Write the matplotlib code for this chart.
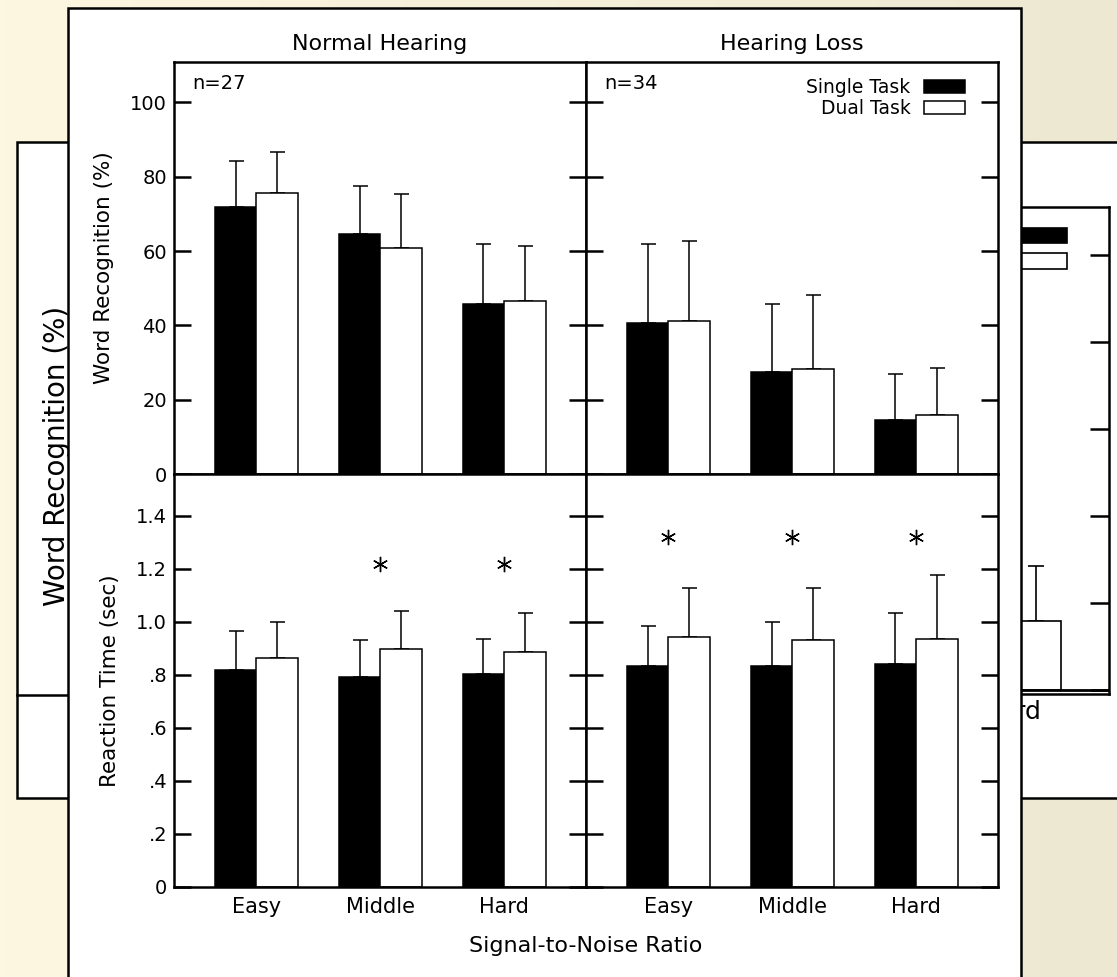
"""Word recognition and reaction time, single vs dual task, on a slide background."""

import matplotlib.pyplot as plt
import matplotlib.patches as mpatches
import numpy as np

plt.rcParams["font.family"] = ["DejaVu Sans"]

# Data
CATEGORIES = ["Easy", "Middle", "Hard"]
SERIES = ["Single Task", "Dual Task"]

nh_wr_single = [71.8, 64.5, 45.8]
nh_wr_single_err = [12.5, 13.1, 16.1]
nh_wr_dual = [75.6, 60.8, 46.6]
nh_wr_dual_err = [11.2, 14.6, 14.9]

hl_wr_single = [40.7, 27.5, 14.5]
hl_wr_single_err = [21.1, 18.3, 12.5]
hl_wr_dual = [41.1, 28.3, 15.8]
hl_wr_dual_err = [21.7, 19.9, 12.8]

nh_rt_single = [0.820, 0.792, 0.804]
nh_rt_single_err = [0.146, 0.141, 0.133]
nh_rt_dual = [0.863, 0.896, 0.887]
nh_rt_dual_err = [0.136, 0.147, 0.147]

hl_rt_single = [0.833, 0.835, 0.842]
hl_rt_single_err = [0.150, 0.165, 0.193]
hl_rt_dual = [0.942, 0.933, 0.935]
hl_rt_dual_err = [0.186, 0.195, 0.242]

# significance markers (single vs dual reaction time)
nh_sig = [False, True, True]
hl_sig = [True, True, True]
nh_star_y = 1.22
hl_star_y = 1.32

WR_TICKS = [0, 20, 40, 60, 80, 100]
RT_TICKS = [0, 0.2, 0.4, 0.6, 0.8, 1.0, 1.2, 1.4]
RT_LABELS = ["0", ".2", ".4", ".6", ".8", "1.0", "1.2", "1.4"]

W, H = 1117, 977
BAR_W = 0.335


def fr(x0, y0, x1, y1):
    """pixel box (top-left origin) -> figure fraction rect"""
    return [x0 / W, 1 - y1 / H, (x1 - x0) / W, (y1 - y0) / H]


def draw_bars(ax, single, single_err, dual, dual_err, lw=1.1, cap=5.4):
    x = np.arange(1, len(CATEGORIES) + 1)
    b1 = ax.bar(x - BAR_W / 2, single, BAR_W, color="black", edgecolor="black",
                linewidth=lw, label=SERIES[0], zorder=2)
    b2 = ax.bar(x + BAR_W / 2, dual, BAR_W, color="white", edgecolor="black",
                linewidth=lw, label=SERIES[1], zorder=2)
    ax.errorbar(x - BAR_W / 2, single, yerr=[np.zeros(len(x)), single_err], fmt="none",
                ecolor="black", elinewidth=lw, capsize=cap, capthick=lw, zorder=1)
    ax.errorbar(x + BAR_W / 2, dual, yerr=[np.zeros(len(x)), dual_err], fmt="none",
                ecolor="black", elinewidth=lw, capsize=cap, capthick=lw, zorder=1)
    return b1, b2


fig = plt.figure(figsize=(W / 100, H / 100), dpi=100)

# ---- slide background and panels behind the chart
ax_bg = fig.add_axes([0, 0, 1, 1], zorder=0)
ax_bg.set_xlim(0, W)
ax_bg.set_ylim(H, 0)
ax_bg.axis("off")
c0 = np.array([253, 246, 224]) / 255
c1 = np.array([236, 232, 210]) / 255
t = np.linspace(0, 1, 200)[None, :, None]
grad = np.repeat(c0 + (c1 - c0) * t, 2, axis=0)
ax_bg.imshow(grad, extent=(0, W, H, 0), aspect="auto", zorder=0)
ax_bg.add_patch(mpatches.Rectangle((16.7, 142.3), 200, 656, facecolor="white",
                                   edgecolor="black", linewidth=1.8, zorder=1))
ax_bg.plot([16.7, 200], [695, 695], color="black", lw=1.8, zorder=2)
ax_bg.text(65, 456, "Word Recognition (%)", rotation=90, rotation_mode="anchor",
           ha="center", va="baseline", fontsize=20, zorder=2)
ax_bg.add_patch(mpatches.Rectangle((900, 142.3), 260, 656, facecolor="white",
                                   edgecolor="black", linewidth=1.8, zorder=1))

# ---- enlarged copy of the hearing-loss chart, mostly hidden
ax_back = fig.add_axes(fr(617, 207, 1109, 694.4), zorder=1)
draw_bars(ax_back, hl_wr_single, hl_wr_single_err, hl_wr_dual, hl_wr_dual_err,
          lw=1.2, cap=5.8)
ax_back.axhline(0, color="black", lw=2.0, zorder=3)
ax_back.set_xlim(0.335, 3.66)
ax_back.set_ylim(-1, 111)
ax_back.set_yticks(WR_TICKS)
ax_back.set_xticks(np.arange(1, 4), CATEGORIES)
ax_back.tick_params(axis="y", direction="in", length=13.5, width=1.8,
                    left=True, right=True, labelleft=False)
ax_back.tick_params(axis="x", length=0, labelsize=18, pad=4)
for s in ax_back.spines.values():
    s.set_linewidth(1.8)
ax_back.legend(loc="upper right", bbox_to_anchor=(0.915, 0.959), frameon=False,
               markerfirst=False, fontsize=15, handlelength=2.2, handleheight=0.75,
               handletextpad=0.7, labelspacing=0.25, borderpad=0, borderaxespad=0)

# ---- white sheet holding the main chart
ax_sheet = fig.add_axes([0, 0, 1, 1], zorder=2)
ax_sheet.set_xlim(0, W)
ax_sheet.set_ylim(H, 0)
ax_sheet.axis("off")
ax_sheet.patch.set_alpha(0)
ax_sheet.add_patch(mpatches.Rectangle((67.7, 7.5), 953.3, 1000, facecolor="white",
                                      edgecolor="black", linewidth=1.8))

# ---- main 2x2 chart
ax_nh_wr = fig.add_axes(fr(174, 62, 586, 474), zorder=3)
ax_hl_wr = fig.add_axes(fr(586, 62, 998, 474), zorder=3)
ax_nh_rt = fig.add_axes(fr(174, 474, 586, 887), zorder=3)
ax_hl_rt = fig.add_axes(fr(586, 474, 998, 887), zorder=3)

draw_bars(ax_nh_wr, nh_wr_single, nh_wr_single_err, nh_wr_dual, nh_wr_dual_err)
bars = draw_bars(ax_hl_wr, hl_wr_single, hl_wr_single_err, hl_wr_dual, hl_wr_dual_err)
draw_bars(ax_nh_rt, nh_rt_single, nh_rt_single_err, nh_rt_dual, nh_rt_dual_err)
draw_bars(ax_hl_rt, hl_rt_single, hl_rt_single_err, hl_rt_dual, hl_rt_dual_err)

x = np.arange(1, len(CATEGORIES) + 1)
for ax, sig, sy in [(ax_nh_rt, nh_sig, nh_star_y), (ax_hl_rt, hl_sig, hl_star_y)]:
    xs = [xi for xi, s in zip(x, sig) if s]
    ax.plot(xs, [sy] * len(xs), ls="none", marker=(6, 2, 0), ms=11, mew=1.0,
            color="black")

for i, ax in enumerate([ax_nh_wr, ax_hl_wr, ax_nh_rt, ax_hl_rt]):
    top = i < 2
    left = i % 2 == 0
    ax.set_xlim(0.335, 3.66)
    if top:
        ax.set_ylim(0, 110.9)
        ax.set_yticks(WR_TICKS)
    else:
        ax.set_ylim(0, 1.558)
        ax.set_yticks(RT_TICKS, RT_LABELS)
    ax.set_xticks(x, CATEGORIES)
    ax.tick_params(axis="y", direction="in", length=12, width=1.8, left=True,
                   right=True, labelleft=left, labelsize=14, pad=5)
    ax.tick_params(axis="x", length=0, labelbottom=not top, labelsize=15, pad=7)
    for s in ax.spines.values():
        s.set_linewidth(1.8)

ax_nh_wr.set_title("Normal Hearing", fontsize=16, pad=9)
ax_hl_wr.set_title("Hearing Loss", fontsize=16, pad=9)
ax_nh_wr.text(0.044, 0.972, "n=27", transform=ax_nh_wr.transAxes, ha="left",
              va="top", fontsize=14)
ax_hl_wr.text(0.044, 0.972, "n=34", transform=ax_hl_wr.transAxes, ha="left",
              va="top", fontsize=14)

ax_nh_wr.set_ylabel("Word Recognition (%)", fontsize=15.5)
ax_nh_wr.yaxis.set_label_coords(-0.146, 0.5)
ax_nh_rt.set_ylabel("Reaction Time (sec)", fontsize=15.5)
ax_nh_rt.yaxis.set_label_coords(-0.131, 0.5)

ax_hl_wr.legend(bars, SERIES, loc="upper right", bbox_to_anchor=(0.92, 0.961),
                frameon=False, markerfirst=False, fontsize=13.5, handlelength=2.2,
                handleheight=0.72, handletextpad=0.7, labelspacing=0.1,
                borderpad=0, borderaxespad=0)

fig.text(586 / W, 1 - 952 / H, "Signal-to-Noise Ratio", ha="center",
         va="baseline", fontsize=16)

fig.savefig("out.png", dpi=100)
